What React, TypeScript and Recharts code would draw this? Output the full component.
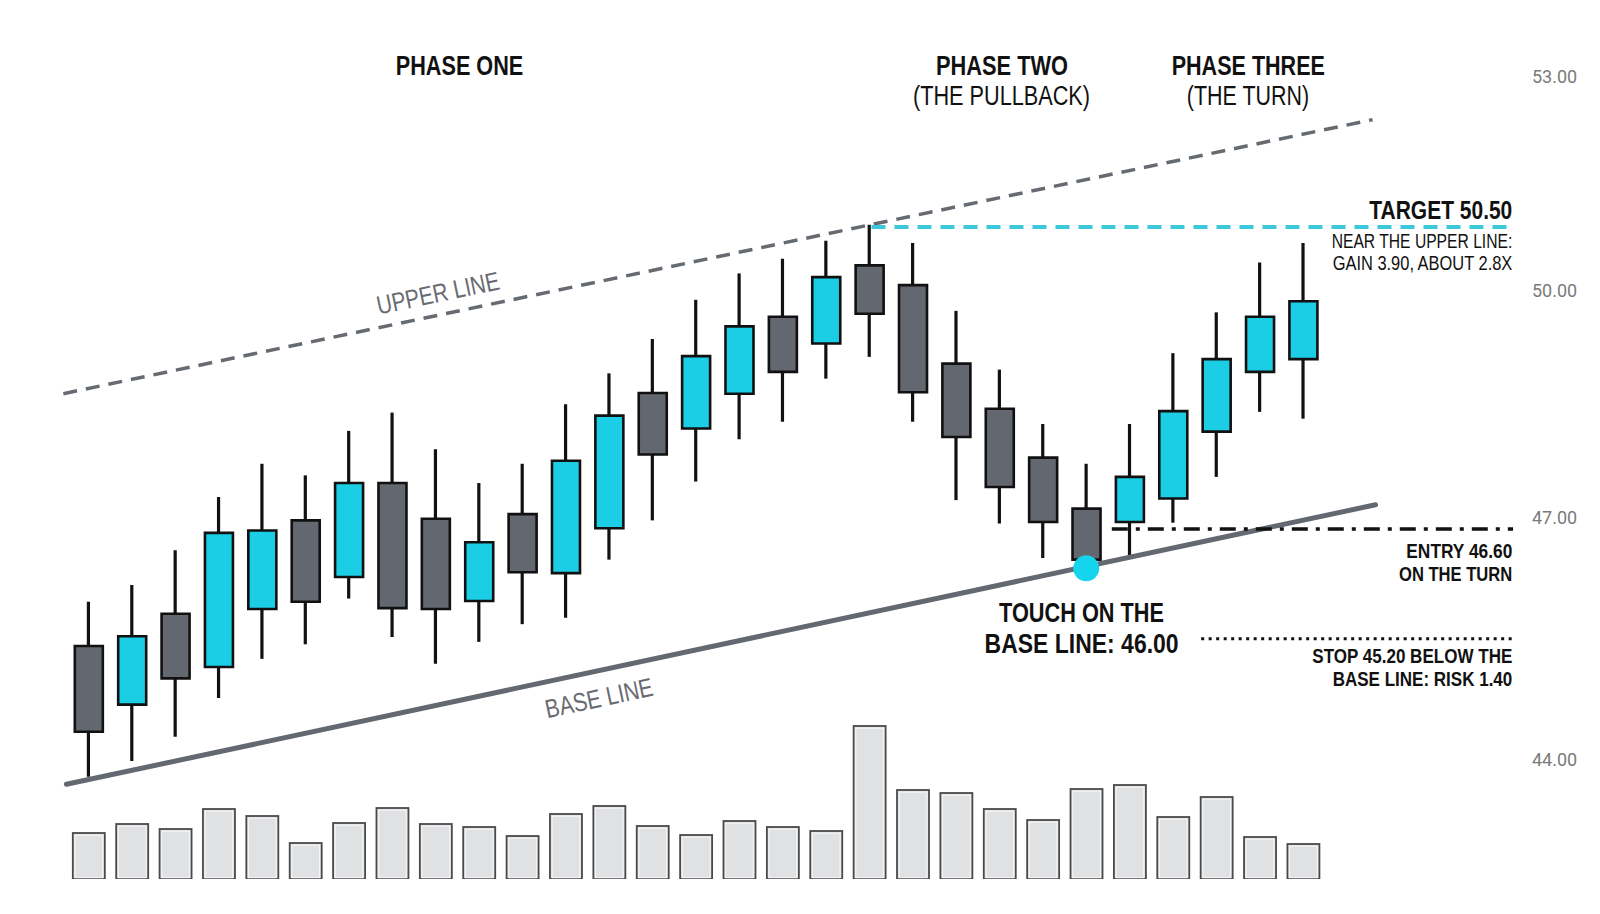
import React from "react";
import { ComposedChart, Bar, XAxis, YAxis, ReferenceLine, ReferenceDot, Cell } from "recharts";

// ---- data ----
const CANDLE_INDEX = [0, 1, 2, 3, 4, 5, 6, 7, 8, 9, 10, 11, 12, 13, 14, 15, 16, 17, 18, 19, 20, 21, 22, 23, 24, 25, 26, 27, 28];
const OPEN = [45.38, 44.66, 45.78, 45.12, 45.84, 46.96, 46.24, 47.44, 46.98, 45.94, 47.04, 46.29, 46.86, 48.62, 48.15, 48.61, 49.64, 49.28, 50.34, 50.07, 49.01, 48.41, 47.77, 47.11, 46.94, 47.24, 48.11, 48.9, 49.07];
const HIGH = [45.93, 46.14, 46.58, 47.26, 47.69, 47.54, 48.12, 48.36, 47.88, 47.44, 47.69, 48.47, 48.88, 49.34, 49.87, 50.23, 50.43, 50.68, 50.9, 50.65, 49.72, 48.93, 48.21, 47.69, 48.21, 49.15, 49.7, 50.38, 50.65];
const LOW = [43.79, 43.98, 44.27, 44.74, 45.22, 45.4, 45.97, 45.49, 45.16, 45.43, 45.65, 45.73, 46.46, 46.96, 47.46, 48.01, 48.24, 48.81, 49.1, 48.24, 47.22, 46.92, 46.48, 46.35, 46.48, 46.93, 47.52, 48.37, 48.28];
const CLOSE = [44.33, 45.5, 44.98, 46.8, 46.83, 45.93, 47.44, 45.85, 45.84, 46.68, 46.3, 47.73, 48.32, 47.81, 49.11, 49.51, 48.9, 50.18, 49.68, 48.63, 48.04, 47.39, 46.94, 46.46, 47.52, 48.38, 49.07, 49.64, 49.85];
const VOLUME_K = [46, 55, 50, 70, 63, 36, 56, 71, 55, 52, 43, 65, 73, 53, 44, 58, 52, 48, 153, 89, 86, 70, 59, 90, 94, 62, 82, 42, 35];
const PRICE_TICKS = [44, 47, 50, 53];

const UPPER_LINE = [{ i: -0.58, price: 48.61 }, { i: 29.6, price: 52.38 }];
const BASE_LINE = [{ i: -0.51, price: 43.7 }, { i: 29.67, price: 47.16 }];
const TARGET = { from: 18.05, to: 32.84, price: 50.87 };
const ENTRY = { from: 23.59, to: 32.84, price: 46.85 };
const STOP = { from: 25.65, to: 32.84, price: 45.47 };
const TOUCH = { i: 23, price: 46.35 };

const data = CANDLE_INDEX.map((i, k) => ({
  i,
  wick: [LOW[k], HIGH[k]],
  body: [Math.min(OPEN[k], CLOSE[k]), Math.max(OPEN[k], CLOSE[k])],
  up: CLOSE[k] >= OPEN[k],
  vol: VOLUME_K[k],
}));

const CYAN = "#1ccde6";
const GRAY = "#63676f";
const INK = "#111111";
const FONT = "'Liberation Sans', Arial, sans-serif";

const VolumeShape = (p: any) => {
  const { x, y, width, height } = p;
  if (!height || height <= 0) return null;
  return (
    <g>
      <rect x={x} y={y} width={width} height={height} fill="#dfe1e3" stroke="#4a4a4a" strokeWidth={1.8} />
      <rect x={x + 2.2} y={y + 2.2} width={width - 4.4} height={height - 3.5} fill="none" stroke="#f5f6f7" strokeWidth={1} />
    </g>
  );
};

type TProps = { x: number; y: number; w: number; size: number; bold?: boolean; anchor?: "start" | "middle" | "end"; fill?: string; rotate?: number; children: string };
const T = ({ x, y, w, size, bold, anchor = "middle", fill = INK, rotate, children }: TProps) => (
  <text
    x={x}
    y={y}
    textAnchor={anchor}
    fontSize={size}
    fontWeight={bold ? 700 : 400}
    fill={fill}
    textLength={w}
    lengthAdjust="spacingAndGlyphs"
    dominantBaseline={rotate !== undefined ? "central" : undefined}
    transform={rotate !== undefined ? `rotate(${rotate} ${x} ${y})` : undefined}
  >
    {children}
  </text>
);

const Annotations = () => (
  <svg width={1600} height={914} style={{ position: "absolute", left: 0, top: 0, pointerEvents: "none" }}>
    <g fontFamily={FONT}>
      <T x={459.5} y={75} w={127.5} size={27} bold>PHASE ONE</T>
      <T x={1002} y={75} w={132} size={27} bold>PHASE TWO</T>
      <T x={1001.5} y={105} w={177} size={27}>(THE PULLBACK)</T>
      <T x={1248.3} y={75} w={153.3} size={27} bold>PHASE THREE</T>
      <T x={1248} y={105} w={122.3} size={27}>(THE TURN)</T>

      <T x={438} y={293} w={124.7} size={26} fill="#686b71" rotate={-11.84}>UPPER LINE</T>
      <T x={599} y={698} w={109.5} size={26} fill="#686b71" rotate={-12.05}>BASE LINE</T>

      <T x={1512.3} y={219} w={143} size={26} bold anchor="end">TARGET 50.50</T>
      <T x={1512.3} y={248} w={180.6} size={20.5} anchor="end">NEAR THE UPPER LINE:</T>
      <T x={1512.3} y={269.5} w={179.6} size={20.5} anchor="end">GAIN 3.90, ABOUT 2.8X</T>

      <T x={1512.3} y={558} w={106} size={21} bold anchor="end">ENTRY 46.60</T>
      <T x={1512.3} y={581} w={113.3} size={21} bold anchor="end">ON THE TURN</T>

      <T x={1512.3} y={663} w={200} size={21} bold anchor="end">STOP 45.20 BELOW THE</T>
      <T x={1512.3} y={685.5} w={179.6} size={21} bold anchor="end">BASE LINE: RISK 1.40</T>

      <T x={1081.5} y={622} w={165} size={27.5} bold>TOUCH ON THE</T>
      <T x={1081.6} y={653} w={194} size={27.5} bold>BASE LINE: 46.00</T>
    </g>
  </svg>
);

export default function App() {
  return (
    <div style={{ position: "absolute", left: 0, top: 0, width: 1600, height: 914, background: "#ffffff" }}>
      <ComposedChart
        width={1600}
        height={914}
        data={data}
        margin={{ top: 20, right: 0, bottom: 35, left: 45.125 }}
      >
        <XAxis xAxisId="wick" dataKey="i" type="number" domain={[-1, 33]} allowDataOverflow hide />
        <XAxis xAxisId="body" dataKey="i" type="number" domain={[-1, 33]} allowDataOverflow hide />
        <XAxis xAxisId="vol" dataKey="i" type="number" domain={[-1, 33]} allowDataOverflow hide />
        <YAxis yAxisId="vol" type="number" domain={[0, 859]} allowDataOverflow hide />
        <YAxis
          yAxisId="price"
          orientation="right"
          width={80}
          type="number"
          scale="log"
          domain={[42.5865, 53.8226]}
          allowDataOverflow
          ticks={PRICE_TICKS}
          tickFormatter={(v: number) => v.toFixed(2)}
          axisLine={false}
          tickLine={false}
          tickSize={0}
          tickMargin={12}
          tick={{ fill: "#7a7a7a", fontSize: 18, fontFamily: "Roboto, sans-serif" }}
        />

        <Bar xAxisId="vol" yAxisId="vol" dataKey="vol" barSize={32} shape={VolumeShape} isAnimationActive={false} />

        <ReferenceLine
          xAxisId="wick"
          yAxisId="price"
          segment={[{ x: BASE_LINE[0].i, y: BASE_LINE[0].price }, { x: BASE_LINE[1].i, y: BASE_LINE[1].price }]}
          stroke="#646870"
          strokeWidth={5}
          strokeLinecap="round"
        />
        <ReferenceLine
          xAxisId="wick"
          yAxisId="price"
          segment={[{ x: UPPER_LINE[0].i, y: UPPER_LINE[0].price }, { x: UPPER_LINE[1].i, y: UPPER_LINE[1].price }]}
          stroke="#666a71"
          strokeWidth={3.5}
          strokeDasharray="14 9"
        />

        <Bar xAxisId="wick" yAxisId="price" dataKey="wick" barSize={3.2} fill={INK} isAnimationActive={false} />
        <Bar xAxisId="body" yAxisId="price" dataKey="body" barSize={28} stroke={INK} strokeWidth={2.6} isAnimationActive={false}>
          {data.map((d, k) => (
            <Cell key={k} fill={d.up ? CYAN : GRAY} />
          ))}
        </Bar>

        <ReferenceLine
          xAxisId="wick"
          yAxisId="price"
          segment={[{ x: TARGET.from, y: TARGET.price }, { x: TARGET.to, y: TARGET.price }]}
          stroke="#3cc9dc"
          strokeWidth={4}
          strokeDasharray="14 9"
        />
        <ReferenceLine
          xAxisId="wick"
          yAxisId="price"
          segment={[{ x: ENTRY.from, y: ENTRY.price }, { x: ENTRY.to, y: ENTRY.price }]}
          stroke={INK}
          strokeWidth={3.5}
          strokeDasharray="16 8 4 8"
        />
        <ReferenceLine
          xAxisId="wick"
          yAxisId="price"
          segment={[{ x: STOP.from, y: STOP.price }, { x: STOP.to, y: STOP.price }]}
          stroke={INK}
          strokeWidth={3}
          strokeDasharray="3 4.5"
        />
        <ReferenceDot xAxisId="wick" yAxisId="price" x={TOUCH.i} y={TOUCH.price} r={13} fill="#14d4ee" stroke="none" />
      </ComposedChart>
      <Annotations />
    </div>
  );
}
